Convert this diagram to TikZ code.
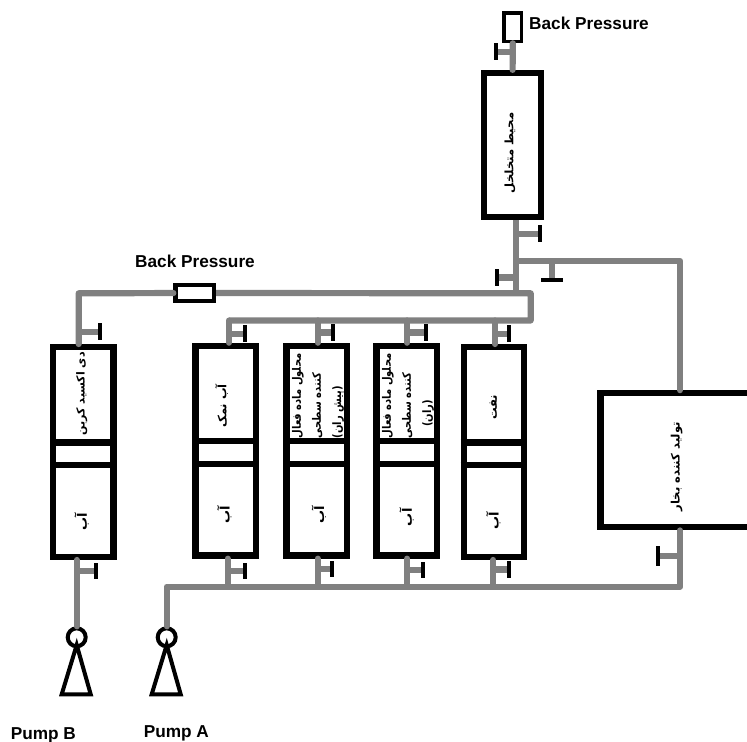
\documentclass[tikz,border=0pt]{standalone}
\usepackage{fontspec}
\usepackage{xcolor}
\setmainfont{Liberation Sans}
\newfontfamily\persianfont[Script=Arabic]{DejaVu Sans}
\newfontfamily\persiannarrow[Script=Arabic,FakeStretch=0.86]{DejaVu Sans}
\TeXXeTstate=1
\definecolor{pipegray}{HTML}{808080}
\newcommand{\fa}[1]{\beginR #1\endR}
\tikzset{
  cyl/.style={draw=black,line width=0.126cm,inner sep=0pt,minimum width=1.21cm,minimum height=4.194cm},
  pipe/.style={draw=pipegray,line width=0.124cm,line join=round},
  divider/.style={draw=black,line width=0.128cm},
  stopv/.style={fill=black,inner sep=0pt,outer sep=0pt,minimum width=0.08cm,minimum height=0.34cm},
  stoph/.style={fill=black,inner sep=0pt,outer sep=0pt,minimum width=0.434cm,minimum height=0.08cm},
  pumpline/.style={draw=black,line width=0.08cm},
  latinlabel/.style={font=\bfseries\fontsize{9.8}{12}\selectfont},
  falabel/.style={font=\persianfont\bfseries\fontsize{6.6}{11.4}\selectfont,rotate=90,inner sep=0pt},
  fawater/.style={falabel,font=\persianfont\bfseries\fontsize{7.4}{11.4}\selectfont},
  falines/.style={falabel,align=left,font=\persiannarrow\bfseries\fontsize{6.6}{11.4}\selectfont}
}
\begin{document}
\begin{tikzpicture}[x=0.02cm,y=-0.02cm]
  \useasboundingbox (0,0) rectangle (747,742);
  \node[cyl] (co2) at (83.3,452) {};
  \node[cyl] (brine) at (225.6,450.7) {};
  \node[cyl] (surfa) at (316.8,450.7) {};
  \node[cyl] (surfb) at (406.8,450.7) {};
  \node[cyl] (oil) at (494,452) {};
  \node[cyl,minimum width=1.146cm,minimum height=2.88cm] (porous) at (512.6,145) {};
  \node[cyl,minimum width=3.18cm,minimum height=2.68cm] (steam) at (680,460.3) {};
  \node[draw=black,line width=0.07cm,inner sep=0pt,minimum width=0.35cm,minimum height=0.576cm] (bptop) at (512.8,27.2) {};
  \node[draw=black,line width=0.09cm,inner sep=0pt,minimum width=0.764cm,minimum height=0.322cm] (bpmid) at (194.7,293) {};
  \node[pumpline,circle,inner sep=0pt,minimum size=0.36cm] (pumpb) at (76.7,637.3) {};
  \node[pumpline,circle,inner sep=0pt,minimum size=0.36cm] (pumpa) at (166.7,637.3) {};

  \draw[divider] (50,442.6) -- (116.7,442.6);
  \draw[divider] (50,465) -- (116.7,465);
  \draw[divider] (192.3,441.3) -- (259,441.3);
  \draw[divider] (192.3,464) -- (259,464);
  \draw[divider] (283.3,441.3) -- (350.3,441.3);
  \draw[divider] (283.3,464) -- (350.3,464);
  \draw[divider] (373.3,441.3) -- (440.3,441.3);
  \draw[divider] (373.3,464) -- (440.3,464);
  \draw[divider] (460.7,442.6) -- (527.3,442.6);
  \draw[divider] (460.7,465) -- (527.3,465);

  \draw[pumpline] (76.7,645) -- (61.7,694.3) -- (90.7,694.3) -- cycle;
  \draw[pumpline] (166.7,645) -- (151.7,694.3) -- (180.7,694.3) -- cycle;

  \coordinate (jtop) at (516.3,293.3);
  \coordinate (jsteam) at (516.3,260.7);
  \coordinate (jco2) at (78.7,293.3);
  \coordinate (jright) at (530.7,293.3);
  \coordinate (mright) at (530.7,320.5);
  \coordinate (mbrine) at (229,320.5);
  \coordinate (msurfa) at (317.7,320.5);
  \coordinate (msurfb) at (407.3,320.5);
  \coordinate (moil) at (495,320.5);
  \coordinate (fmain) at (680,586.7);
  \coordinate (fbrine) at (227.7,586.7);
  \coordinate (fsurfa) at (317.7,586.7);
  \coordinate (fsurfb) at (407.3,586.7);
  \coordinate (foil) at (493.3,586.7);

  \node[stopv] (vtop) at (495.5,52) {};
  \node[stopv] (vmid) at (540,234) {};
  \node[stopv] (vleft) at (496.7,277.5) {};
  \node[stoph] (vbranch) at (551.7,280) {};
  \node[stopv] (vco2) at (100,332) {};
  \node[stopv] (vbrine) at (245,334) {};
  \node[stopv] (vsurfa) at (333.3,332.5) {};
  \node[stopv] (vsurfb) at (426,332.5) {};
  \node[stopv] (voil) at (509,334) {};
  \node[stopv] (vco2low) at (96.3,571) {};
  \node[stopv] (vbrinelow) at (245,571) {};
  \node[stopv] (vsurfalow) at (332.3,569) {};
  \node[stopv] (vsurfblow) at (423.3,570) {};
  \node[stopv] (voillow) at (509.3,569.5) {};
  \node[stopv,minimum height=0.4cm] (vsteam) at (658.3,556) {};

  \draw[pipe,line cap=round] (bptop.south) -- (porous.north);
  \draw[pipe] (porous.south -| jtop) -- (jtop);
  \draw[pipe,line cap=round] (co2.north -| jco2) -- (jco2) -- (bpmid);
  \draw[pipe] (bpmid) -- (jright) -- (mright) -- (mbrine);
  \draw[pipe,line cap=round] (brine.north -| mbrine) -- (mbrine);
  \draw[pipe,line cap=round] (surfa.north -| msurfa) -- (msurfa);
  \draw[pipe,line cap=round] (surfb.north -| msurfb) -- (msurfb);
  \draw[pipe,line cap=round] (oil.north -| moil) -- (moil);
  \draw[pipe,line cap=round] (jsteam) -| (steam.north);
  \draw[pipe,line cap=round] (steam.south) -- (fmain) -- (pumpa.north |- fmain) -- (pumpa.north);
  \draw[pipe,line cap=round] (co2.south -| pumpb) -- (pumpb.north);
  \draw[pipe,line cap=round] (brine.south -| fbrine) -- (fbrine);
  \draw[pipe,line cap=round] (surfa.south -| fsurfa) -- (fsurfa);
  \draw[pipe,line cap=round] (surfb.south -| fsurfb) -- (fsurfb);
  \draw[pipe,line cap=round] (oil.south -| foil) -- (foil);

  \draw[pipe] (vtop -| bptop) -- (vtop);
  \draw[pipe] (vmid -| jtop) -- (vmid);
  \draw[pipe] (vleft -| jtop) -- (vleft);
  \draw[pipe] (vbranch |- jsteam) -- (vbranch);
  \draw[pipe] (vco2 -| jco2) -- (vco2);
  \draw[pipe] (vbrine -| mbrine) -- (vbrine);
  \draw[pipe] (vsurfa -| msurfa) -- (vsurfa);
  \draw[pipe] (vsurfb -| msurfb) -- (vsurfb);
  \draw[pipe] (voil -| moil) -- (voil);
  \draw[pipe] (vco2low -| pumpb) -- (vco2low);
  \draw[pipe] (vbrinelow -| fbrine) -- (vbrinelow);
  \draw[pipe] (vsurfalow -| fsurfa) -- (vsurfalow);
  \draw[pipe] (vsurfblow -| fsurfb) -- (vsurfblow);
  \draw[pipe] (voillow -| foil) -- (voillow);
  \draw[pipe] (vsteam -| steam) -- (vsteam);

  \node[latinlabel] (bptoplabel) at (589,23) {Back Pressure};
  \node[latinlabel] (bpmidlabel) at (195,261.7) {Back Pressure};
  \node[latinlabel] (pumpblabel) at (43.3,735) {Pump B};
  \node[latinlabel] (pumpalabel) at (176.3,733.3) {Pump A};

  \node[falabel] (poroustext) at (510,153) {\fa{محیط متخلخل}};
  \node[falabel] (steamtext) at (676.7,466.7) {\fa{تولید کننده بخار}};
  \node[falabel,font=\persianfont\bfseries\fontsize{6.3}{11.4}\selectfont] (co2text) at (81.7,394) {\fa{دی اکسید کربن}};
  \node[falabel] (brinetext) at (221.7,406) {\fa{آب نمک}};
  \node[falines] (surfatext) at (318,396) {\fa{محلول ماده فعال}\\\fa{کننده سطحی}\\\fa{(پیش ران)}};
  \node[falines] (surfbtext) at (408,396) {\fa{محلول ماده فعال}\\\fa{کننده سطحی}\\\hspace{6.5pt}\fa{(ران)}};
  \node[falabel] (oiltext) at (493.3,407.5) {\fa{نفت}};
  \node[fawater] (waterco2) at (81.7,521.7) {\fa{آب}};
  \node[fawater] (waterbrine) at (224.3,515) {\fa{آب}};
  \node[fawater] (watersurfa) at (319,515) {\fa{آب}};
  \node[fawater] (watersurfb) at (406.7,517.3) {\fa{آب}};
  \node[fawater] (wateroil) at (493.3,520.7) {\fa{آب}};
\end{tikzpicture}
\end{document}
